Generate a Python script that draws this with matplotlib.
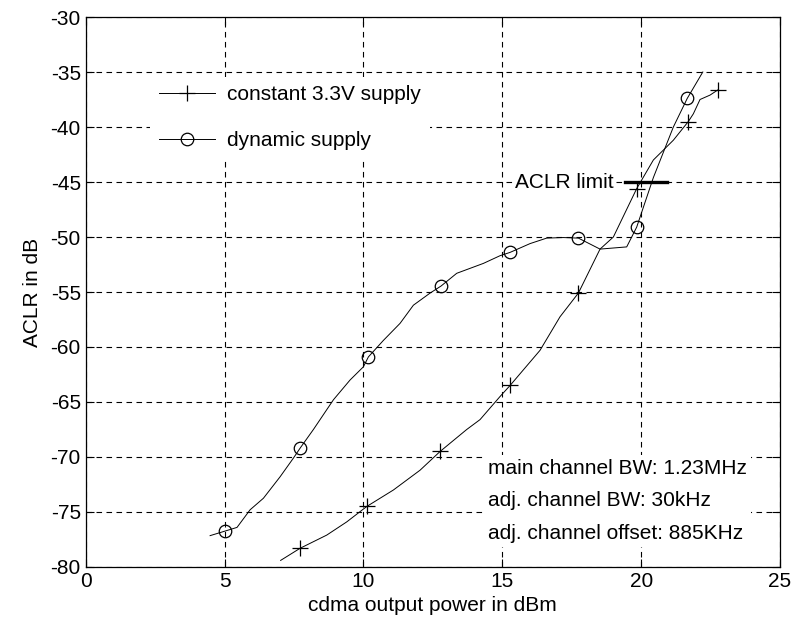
import numpy as np
import matplotlib
matplotlib.use('Agg')
from matplotlib import pyplot as plt

plt.rcParams['font.family'] = ['Liberation Sans', 'DejaVu Sans']
plt.rcParams['axes.unicode_minus'] = False

# constant 3.3V supply (traced line, markers at mark_const indices)
const_x = [7.02, 7.72, 8.68, 9.4, 10.12, 11.08, 12.04, 12.76, 13.72, 14.2,
           14.92, 15.28, 16.36, 17.08, 17.74, 18.52, 19.0, 19.84, 20.44,
           21.16, 21.7, 21.88, 22.12, 22.48, 22.78]
const_y = [-79.4, -78.3, -77.1, -75.9, -74.5, -73.0, -71.2, -69.5, -67.5, -66.6,
           -64.5, -63.5, -60.3, -57.25, -55.1, -51.1, -50.0, -45.6, -43.0,
           -41.2, -39.5, -38.8, -37.5, -37.1, -36.6]
mark_const = [1, 4, 7, 11, 14, 17, 20, 24]

# dynamic supply
dyn_x = [4.48, 5.0, 5.45, 5.92, 6.4, 7.0, 7.48, 7.72, 8.2, 8.92, 9.52, 10.0,
         10.18, 10.72, 11.32, 11.8, 12.4, 12.8, 13.36, 14.32, 14.92, 15.28,
         16.0, 16.6, 17.2, 17.74, 18.52, 19.48, 19.84, 20.08, 20.44, 21.16,
         21.66, 22.22]
dyn_y = [-77.15, -76.75, -76.4, -74.8, -73.75, -71.8, -70.1, -69.2, -67.5,
         -64.8, -63.0, -61.8, -60.9, -59.4, -57.85, -56.2, -55.1, -54.45,
         -53.3, -52.4, -51.7, -51.4, -50.6, -50.1, -50.05, -50.1, -51.1,
         -50.9, -49.1, -47.3, -44.6, -40.0, -37.4, -35.0]
mark_dyn = [1, 7, 12, 17, 21, 25, 28, 32]

limit_x = [19.42, 20.92]
limit_y = -45

notes = ['main channel BW: 1.23MHz', 'adj. channel BW: 30kHz',
         'adj. channel offset: 885KHz']

fig = plt.figure(figsize=(7.91, 6.23), dpi=100)
ax = fig.add_axes([0.1083, 0.0899, 0.8778, 0.8828])

ax.plot(const_x, const_y, 'k-', lw=0.7, marker='+', markevery=mark_const,
        ms=12, mew=0.9, label='constant 3.3V supply')
ax.plot(dyn_x, dyn_y, 'k-', lw=0.7, marker='o', markevery=mark_dyn,
        ms=9, mew=0.9, mfc='none', label='dynamic supply')

ax.plot(limit_x, [limit_y, limit_y], 'k-', lw=2.4)
ax.text(19.0, limit_y, 'ACLR limit', ha='right', va='center', fontsize=15,
        bbox=dict(facecolor='white', edgecolor='none', pad=1))

ax.text(14.5, -74.0, '\n'.join(notes), ha='left', va='center', fontsize=15,
        linespacing=1.9,
        bbox=dict(facecolor='white', edgecolor='none', pad=3))

ax.set_xlim(0, 25)
ax.set_ylim(-80, -30)
ax.set_xticks(np.arange(0, 26, 5))
ax.set_yticks(np.arange(-80, -29, 5))
ax.grid(True, color='k', linestyle=(0, (5, 4)), linewidth=0.8)
ax.tick_params(direction='in', length=6, top=True, right=True,
               labelsize=15, width=0.8)
for s in ax.spines.values():
    s.set_linewidth(0.9)

ax.set_xlabel('cdma output power in dBm', fontsize=15, labelpad=4)
ax.set_ylabel('ACLR in dB', fontsize=15, labelpad=6)

leg = ax.legend(loc='upper left', bbox_to_anchor=(0.093, 0.891), fontsize=15,
                frameon=True, edgecolor='none', facecolor='white',
                framealpha=1, fancybox=False, handlelength=2.7,
                handletextpad=0.6, labelspacing=1.28, borderaxespad=0)

fig.savefig('out.png', dpi=100)
